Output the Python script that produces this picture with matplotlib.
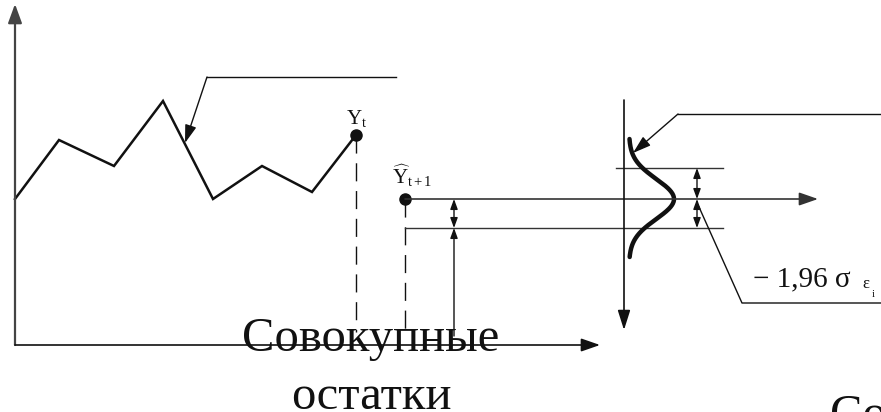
import matplotlib
matplotlib.use("Agg")
import matplotlib.pyplot as plt
import numpy as np

plt.rcParams['font.family'] = ['Liberation Serif', 'DejaVu Serif']
plt.rcParams['mathtext.fontset'] = 'custom'
plt.rcParams['mathtext.rm'] = 'Liberation Serif'
plt.rcParams['mathtext.it'] = 'Liberation Serif:italic'

# observed series (diagram units, y grows downward)
series_x = [15, 59, 114, 163, 213, 262, 312, 356]
series_y = [199, 140, 166, 101, 199, 166, 192, 135]

# forecast point and its confidence band
forecast_x = 405
forecast_y = 199
band_upper = 168
band_lower = 228

# axes of the left panel
origin = (15, 345)
y_axis_top = 4
x_axis_end = 600

# residual distribution axis on the right
dist_x = 624
dist_top = 100
dist_bottom = 330
curve_base = 629
curve_height = 45
curve_sigma = 20
curve_span = (139, 257)

INK = '#111111'


def arrow(ax, start, end, style='-|>', lw=1.0, hl=0.6, hw=0.22, color=INK):
    ax.annotate('', xy=end, xytext=start,
                arrowprops=dict(arrowstyle=f'{style},head_length={hl},head_width={hw}',
                                lw=lw, color=color, shrinkA=0, shrinkB=0,
                                mutation_scale=10))


fig = plt.figure(figsize=(8.81, 4.12), dpi=100)
ax = fig.add_axes([0, 0, 1, 1])
ax.set_xlim(0, 881)
ax.set_ylim(412, 0)
ax.axis('off')

# left panel axes
arrow(ax, origin, (origin[0], y_axis_top), lw=1.6, hl=1.15, hw=0.42, color='#444444')
arrow(ax, origin, (x_axis_end, origin[1]), lw=1.2, hl=1.15, hw=0.4)

# the series itself and its last observation
ax.plot(series_x, series_y, color=INK, lw=1.8, solid_joinstyle='miter')
ax.plot(series_x[-1], series_y[-1], 'o', color=INK, ms=8)
ax.plot(forecast_x, forecast_y, 'o', color=INK, ms=8)

# drop lines to the time axis
ax.plot([series_x[-1], series_x[-1]], [series_y[-1], 332], color=INK, lw=1.0,
        linestyle=(0, (13, 7)))
ax.plot([forecast_x, forecast_x], [forecast_y, 335], color=INK, lw=1.0,
        linestyle=(0, (13, 7)))

# forecast level and band lines
arrow(ax, (forecast_x, forecast_y), (818, forecast_y), lw=1.2, hl=1.15, hw=0.4, color='#333333')
ax.plot([forecast_x, 723], [band_lower, band_lower], color='#333333', lw=1.0)
ax.plot([616, 723], [band_upper, band_upper], color='#333333', lw=1.0)

# interval markers between forecast and lower bound
arrow(ax, (454, forecast_y), (454, band_lower), style='<|-|>', lw=1.0)
arrow(ax, (454, 336), (454, band_lower), lw=1.0)
arrow(ax, (697, band_upper), (697, forecast_y), style='<|-|>', lw=1.0)
arrow(ax, (697, forecast_y), (697, band_lower), style='<|-|>', lw=1.0)

# distribution axis and bell curve of residuals
arrow(ax, (dist_x, dist_top), (dist_x, dist_bottom), lw=1.2, hl=1.2, hw=0.38)
yy = np.linspace(curve_span[0], curve_span[1], 200)
xx = curve_base + curve_height * np.exp(-0.5 * ((yy - forecast_y) / curve_sigma) ** 2)
ax.plot(xx, yy, color=INK, lw=3.2, solid_capstyle='round')

# leader lines
ax.plot([396, 207], [77, 77], color=INK, lw=1.0)
arrow(ax, (207, 77), (185, 143), lw=1.0, hl=1.1, hw=0.35)
ax.plot([881, 678], [114, 114], color=INK, lw=1.0)
arrow(ax, (678, 114), (633, 153), lw=1.0, hl=1.1, hw=0.35)
ax.plot([881, 742, 699], [303, 303, 207], color=INK, lw=1.0)

# labels
ax.text(346, 124, r'$\mathrm{Y}_{\mathrm{t}}$', fontsize=15, color=INK, va='baseline')
ax.text(392, 184, r'$\widehat{\mathrm{Y}}_{\mathrm{t+1}}$', fontsize=15, color=INK, va='baseline')
ax.text(753, 286, '− 1,96 σ', fontsize=21, color=INK, va='baseline')
ax.text(862, 288, 'ε', fontsize=12, color=INK, va='baseline')
ax.text(872, 297, 'i', fontsize=8, color=INK, va='baseline')

ax.text(371, 351, 'Совокупные', fontsize=35, color=INK, ha='center', va='baseline')
ax.text(371, 409, 'остатки', fontsize=35, color=INK, ha='center', va='baseline')
ax.text(830, 428, 'Совокупные', fontsize=35, color=INK, ha='left', va='baseline')

fig.savefig('out.png', dpi=100)
